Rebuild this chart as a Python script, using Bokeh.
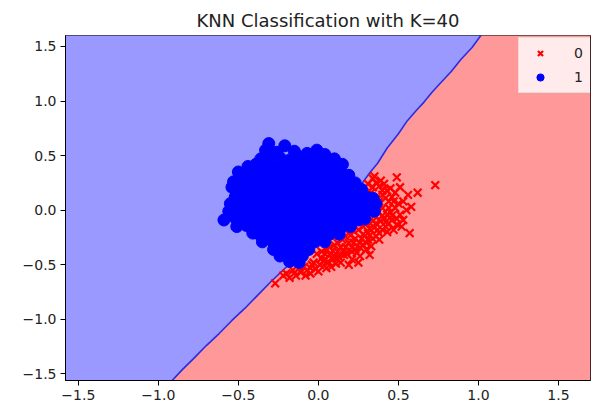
from bokeh.plotting import figure
from bokeh.models import Range1d, FixedTicker, Legend, LegendItem
from bokeh.embed import file_html
from bokeh.resources import INLINE

title_text = "KNN Classification with K=40"
x_limits = [-1.58, 1.70]
y_limits = [-1.56, 1.60]
tick_values = [-1.5, -1.0, -0.5, 0.0, 0.5, 1.0, 1.5]
tick_labels = ["−1.5", "−1.0", "−0.5", "0.0", "0.5", "1.0", "1.5"]
class_labels = ["0", "1"]

# decision boundary between class 1 (left/top) and class 0 (right/bottom)
boundary_x = [-0.92, -0.85, -0.78, -0.70, -0.62, -0.54, -0.46, -0.38, -0.30, -0.20,
              0.05, 0.25, 0.32, 0.37, 0.43, 0.50, 0.556, 0.61, 0.66, 0.71, 0.76, 0.83, 0.89, 0.96, 1.02]
boundary_y = [-1.57, -1.46, -1.36, -1.24, -1.13, -1.01, -0.90, -0.78, -0.66, -0.52,
              -0.15, 0.20, 0.34, 0.43, 0.57, 0.70, 0.82, 0.91, 0.99, 1.08, 1.16, 1.27, 1.38, 1.49, 1.61]

# class 0 samples (red x)
red_x = [-0.27, -0.20, -0.16, -0.11, -0.09, -0.05, -0.03, 0.01, 0.02, 0.06,
         0.07, 0.11, 0.12, 0.16, 0.17, 0.19, 0.21, 0.22, 0.25, 0.26,
         0.27, 0.30, 0.31, 0.32, 0.34, 0.35, 0.38, 0.39, 0.42, 0.43,
         0.46, 0.47, 0.48, 0.51, 0.53, 0.57, 0.44, 0.40, 0.43, 0.38,
         0.39, 0.34, 0.49, 0.51, 0.56, 0.62, 0.73, 0.53, 0.58, 0.46,
         -0.01, 0.05, 0.10, 0.15, 0.20, 0.25, 0.30, 0.35, 0.40, 0.08,
         0.14, -0.14,
         -0.18, -0.22, -0.07, -0.02, 0.03, 0.09, 0.04, 0.09, 0.14, 0.19,
         0.23, 0.28, 0.32, 0.36, 0.41, 0.45, 0.37, 0.42, 0.36, 0.33,
         0.44, 0.49, 0.40, 0.36, 0.31, 0.28, 0.23, 0.18, 0.13, 0.00,
         0.05, -0.08, 0.36, 0.31, 0.35, 0.41, 0.45, 0.48, 0.50, 0.55,
         0.49, 0.52, 0.30, 0.26, 0.21,
         -0.12, -0.04, 0.04, 0.10, 0.16, 0.21, 0.26, 0.32, 0.37, 0.42,
         0.46, 0.40, 0.34, 0.28, 0.22, 0.17, 0.12, 0.07, 0.02, 0.44,
         0.38, 0.40, 0.34, 0.47, 0.43, 0.38, 0.33, 0.24, 0.11, -0.05]
red_y = [-0.67, -0.58, -0.55, -0.57, -0.52, -0.53, -0.48, -0.50, -0.44, -0.47,
         -0.41, -0.44, -0.38, -0.41, -0.34, -0.50, -0.38, -0.30, -0.48, -0.34,
         -0.26, -0.30, -0.21, -0.41, -0.26, -0.16, -0.21, -0.10, -0.15, -0.04,
         -0.09, -0.18, 0.02, -0.04, -0.09, -0.21, 0.08, 0.14, 0.18, 0.22,
         0.27, 0.29, 0.30, 0.21, 0.14, 0.16, 0.23, 0.08, 0.03, 0.12,
         -0.40, -0.36, -0.32, -0.27, -0.23, -0.18, -0.12, -0.05, 0.02, -0.52,
         -0.48, -0.60,
         -0.62, -0.60, -0.55, -0.54, -0.47, -0.45, -0.40, -0.37, -0.34, -0.30,
         -0.26, -0.22, -0.17, -0.12, -0.08, -0.02, 0.05, 0.11, 0.10, 0.16,
         -0.12, -0.08, -0.18, -0.24, -0.27, -0.32, -0.36, -0.40, -0.43, -0.56,
         -0.53, -0.60, 0.25, 0.24, 0.31, 0.24, 0.20, 0.16, 0.06, 0.00,
         -0.13, -0.15, -0.36, -0.42, -0.45,
         -0.53, -0.50, -0.45, -0.42, -0.38, -0.34, -0.30, -0.23, -0.18, -0.11,
         -0.05, -0.05, -0.10, -0.15, -0.19, -0.24, -0.30, -0.34, -0.38, 0.02,
         0.08, 0.18, 0.21, 0.08, -0.20, -0.27, -0.33, -0.39, -0.49, -0.58]

# class 1 samples (blue circles)
blue_x = [-0.31, -0.21,
          -0.33, -0.01, -0.26, -0.15, -0.07, 0.04,
          -0.36, -0.30, -0.24, -0.18, -0.12, -0.06, 0.00, 0.06, 0.10,
          -0.44, -0.39, -0.33, -0.28, -0.22, -0.17, -0.11, -0.05, 0.01, 0.06, 0.11, 0.15,
          -0.50, -0.45, -0.40, -0.34, -0.29, -0.23, -0.18, -0.12, -0.07, -0.01, 0.04, 0.09, 0.14, 0.19,
          -0.53, -0.48, -0.42, -0.37, -0.31, -0.26, -0.20, -0.15, -0.09, -0.04, 0.02, 0.07, 0.13, 0.18, 0.23,
          -0.54, -0.49, -0.43, -0.38, -0.32, -0.27, -0.21, -0.16, -0.10, -0.05, 0.01, 0.06, 0.12, 0.17, 0.22, 0.27,
          -0.52, -0.47, -0.41, -0.36, -0.30, -0.25, -0.19, -0.14, -0.08, -0.03, 0.03, 0.08, 0.14, 0.19, 0.25, 0.30, 0.34,
          -0.55, -0.50, -0.44, -0.39, -0.33, -0.28, -0.22, -0.17, -0.11, -0.06, 0.00, 0.05, 0.11, 0.16, 0.22, 0.27, 0.32, 0.36,
          -0.56, -0.51, -0.45, -0.40, -0.34, -0.29, -0.23, -0.18, -0.12, -0.07, -0.01, 0.04, 0.10, 0.15, 0.21, 0.26, 0.31, 0.35,
          -0.59, -0.52, -0.47, -0.41, -0.36, -0.30, -0.25, -0.19, -0.14, -0.08, -0.03, 0.03, 0.08, 0.14, 0.19, 0.25, 0.29,
          -0.51, -0.45, -0.40, -0.34, -0.29, -0.23, -0.18, -0.12, -0.07, -0.01, 0.04, 0.10, 0.15, 0.20,
          -0.41, -0.37, -0.31, -0.26, -0.20, -0.15, -0.09, -0.04, 0.02, 0.07, 0.13,
          -0.35, -0.29, -0.24, -0.18, -0.13, -0.07, -0.02, 0.04,
          -0.28, -0.22, -0.17, -0.11, -0.06,
          -0.24, -0.18, -0.13, -0.10,
          -0.18, -0.12]
blue_y = [0.61, 0.59,
          0.55, 0.55, 0.53, 0.54, 0.52, 0.51,
          0.47, 0.49, 0.48, 0.46, 0.49, 0.47, 0.48, 0.46, 0.47,
          0.40, 0.42, 0.41, 0.39, 0.42, 0.40, 0.41, 0.43, 0.40, 0.41, 0.39, 0.42,
          0.35, 0.33, 0.34, 0.36, 0.33, 0.34, 0.35, 0.33, 0.34, 0.35, 0.33, 0.34, 0.35, 0.32,
          0.26, 0.28, 0.27, 0.26, 0.28, 0.27, 0.26, 0.28, 0.27, 0.26, 0.27, 0.28, 0.26, 0.27, 0.25,
          0.21, 0.19, 0.20, 0.21, 0.19, 0.20, 0.21, 0.19, 0.20, 0.21, 0.19, 0.20, 0.21, 0.19, 0.20, 0.19,
          0.12, 0.14, 0.13, 0.12, 0.14, 0.13, 0.12, 0.14, 0.13, 0.12, 0.14, 0.13, 0.12, 0.14, 0.13, 0.12, 0.11,
          0.06, 0.05, 0.07, 0.06, 0.05, 0.07, 0.06, 0.05, 0.07, 0.06, 0.05, 0.07, 0.06, 0.05, 0.07, 0.06, 0.05, 0.06,
          -0.01, 0.00, -0.02, -0.01, 0.00, -0.02, -0.01, 0.00, -0.02, -0.01, 0.00, -0.02, -0.01, 0.00, -0.02, -0.01, 0.00, -0.01,
          -0.09, -0.07, -0.08, -0.09, -0.07, -0.08, -0.09, -0.07, -0.08, -0.09, -0.07, -0.08, -0.09, -0.07, -0.08, -0.09, -0.08,
          -0.15, -0.14, -0.16, -0.15, -0.14, -0.16, -0.15, -0.14, -0.16, -0.15, -0.14, -0.16, -0.15, -0.15,
          -0.21, -0.22, -0.23, -0.22, -0.21, -0.23, -0.22, -0.21, -0.23, -0.22, -0.22,
          -0.29, -0.28, -0.30, -0.29, -0.28, -0.30, -0.29, -0.29,
          -0.36, -0.35, -0.37, -0.36, -0.36,
          -0.42, -0.43, -0.41, -0.42,
          -0.47, -0.48]

FONT = "DejaVu Sans"

p = figure(width=591, height=413,
           x_range=Range1d(x_limits[0], x_limits[1]),
           y_range=Range1d(y_limits[0], y_limits[1]),
           output_backend="svg", toolbar_location=None,
           title=title_text,
           min_border_left=65, min_border_right=1,
           min_border_top=35, min_border_bottom=33)
p.title.align = "center"
p.title.text_font = FONT
p.title.text_font_style = "normal"
p.title.text_font_size = "18px"
p.title.text_color = "#222222"
p.grid.visible = False
p.outline_line_color = "black"
p.outline_line_alpha = 1.0
p.background_fill_color = "white"
p.border_fill_color = "white"

# decision regions
blue_poly_x = boundary_x + [x_limits[0], x_limits[0]]
blue_poly_y = boundary_y + [y_limits[1] + 0.1, y_limits[0] - 0.1]
red_poly_x = boundary_x + [x_limits[1], x_limits[1]]
red_poly_y = boundary_y + [y_limits[1] + 0.1, y_limits[0] - 0.1]
p.patch(blue_poly_x, blue_poly_y, fill_color="#9999ff", line_color=None)
p.patch(red_poly_x, red_poly_y, fill_color="#ff9999", line_color=None)
p.line(boundary_x, boundary_y, line_color="#2b2be6", line_width=1.6)

r_red = p.scatter(red_x, red_y, marker="x", size=11, line_color="#ff0000", line_width=2.2)
r_blue = p.scatter(blue_x, blue_y, marker="circle", size=12, fill_color="#0000ff", line_color="#0000ff")

for ax in (p.xaxis[0], p.yaxis[0]):
    ax.ticker = FixedTicker(ticks=tick_values)
    ax.major_label_overrides = dict(zip(tick_values, tick_labels))
    ax.major_label_text_font = FONT
    ax.major_label_text_font_size = "14px"
    ax.major_label_text_color = "#222222"
    ax.major_tick_out = 5
    ax.major_tick_in = 0
    ax.minor_tick_out = 0
    ax.minor_tick_in = 0
    ax.axis_line_color = "black"
    ax.major_tick_line_color = "black"
    ax.major_label_standoff = 4

legend = Legend(items=[LegendItem(label=class_labels[0], renderers=[r_red]),
                       LegendItem(label=class_labels[1], renderers=[r_blue])],
                location=(453, 287), margin=0)
legend.background_fill_color = "white"
legend.background_fill_alpha = 0.8
legend.border_line_color = "#cccccc"
legend.label_text_font = FONT
legend.label_text_font_size = "14px"
legend.label_text_color = "#222222"
legend.glyph_width = 30
legend.glyph_height = 18
legend.spacing = 6
legend.padding = 6
legend.label_standoff = 19
p.add_layout(legend)

open("out.html", "w").write(file_html(p, INLINE))
